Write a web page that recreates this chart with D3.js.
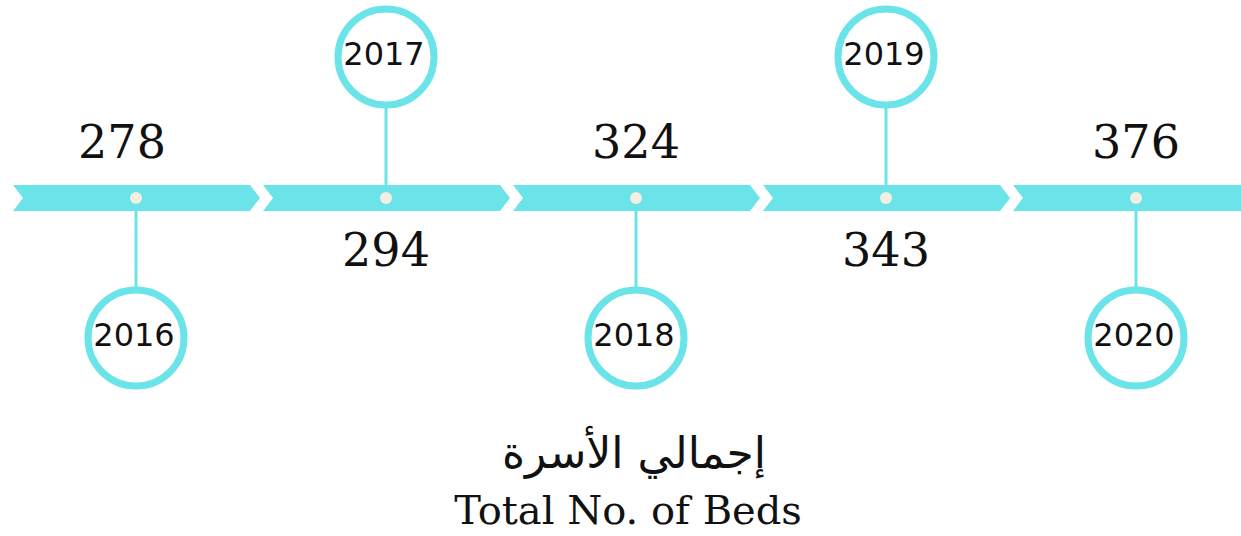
<!DOCTYPE html>
<html>
<head>
<meta charset="utf-8">
<script src="https://cdn.jsdelivr.net/npm/d3@7"></script>
<style>
  html, body { margin: 0; padding: 0; background: #fff; }
  svg { display: block; }
</style>
</head>
<body>
<div class="chart"></div>
<script>
// data
const years = ["2016", "2017", "2018", "2019", "2020"];
const beds = [278, 294, 324, 343, 376];
const titleAr = "إجمالي الأسرة";
const titleEn = "Total No. of Beds";

const WIDTH = 1241;
const HEIGHT = 536;
const TEAL = "#6ae4e8";
const barTop = 185, barBottom = 211, barMid = 198;
const notch = 10;
const ringR = 48;

const svg = d3.select(".chart")
  .append("svg")
  .attr("width", WIDTH)
  .attr("height", HEIGHT);

const x = d3.scaleBand()
  .domain(years)
  .range([13, 13 + 250 * years.length]);

const centre = d => x(d) + 123;
const isUp = i => i % 2 === 1;   // circle above the bar

// arrow segments
svg.append("g")
  .selectAll("path")
  .data(years)
  .join("path")
  .attr("fill", TEAL)
  .attr("d", (d, i) => {
    const x0 = x(d);
    const last = i === years.length - 1;
    const x1 = last ? WIDTH : x0 + 237;
    const tip = last ? WIDTH : x0 + 247;
    return `M${x0},${barTop} L${x1},${barTop} L${tip},${barMid} L${x1},${barBottom}` +
      ` L${x0},${barBottom} L${x0 + notch},${barMid} Z`;
  });

const item = svg.append("g")
  .selectAll("g")
  .data(years)
  .join("g")
  .attr("transform", d => `translate(${centre(d)},0)`);

// stems
item.append("line")
  .attr("x1", 0).attr("x2", 0)
  .attr("y1", barMid)
  .attr("y2", (d, i) => isUp(i) ? 57 + ringR : 338 - ringR)
  .attr("stroke", TEAL)
  .attr("stroke-width", 3);

// dots on the bar
item.append("circle")
  .attr("cy", barMid)
  .attr("r", 6)
  .attr("fill", "#f4ede2");

// year rings
item.append("circle")
  .attr("cy", (d, i) => isUp(i) ? 57 : 338)
  .attr("r", ringR)
  .attr("fill", "#fff")
  .attr("stroke", TEAL)
  .attr("stroke-width", 7);

item.append("text")
  .text(d => d)
  .attr("x", -2)
  .attr("y", (d, i) => isUp(i) ? 65 : 346)
  .attr("text-anchor", "middle")
  .attr("font-family", "DejaVu Sans")
  .attr("font-size", 32)
  .attr("fill", "#111");

// values
item.append("text")
  .text((d, i) => beds[i])
  .attr("x", (d, i) => i === 0 ? -14 : 0)
  .attr("y", (d, i) => isUp(i) ? 266 : 158)
  .attr("text-anchor", "middle")
  .attr("font-family", "DejaVu Serif")
  .attr("font-size", 46)
  .attr("fill", "#111");

// title
svg.append("text")
  .text(titleAr)
  .attr("x", 634)
  .attr("y", 468)
  .attr("text-anchor", "middle")
  .attr("direction", "rtl")
  .attr("font-family", "DejaVu Sans")
  .attr("font-size", 44)
  .attr("fill", "#111");

svg.append("text")
  .text(titleEn)
  .attr("x", 628)
  .attr("y", 524)
  .attr("text-anchor", "middle")
  .attr("font-family", "DejaVu Serif")
  .attr("font-size", 40)
  .attr("fill", "#111");
</script>
</body>
</html>
